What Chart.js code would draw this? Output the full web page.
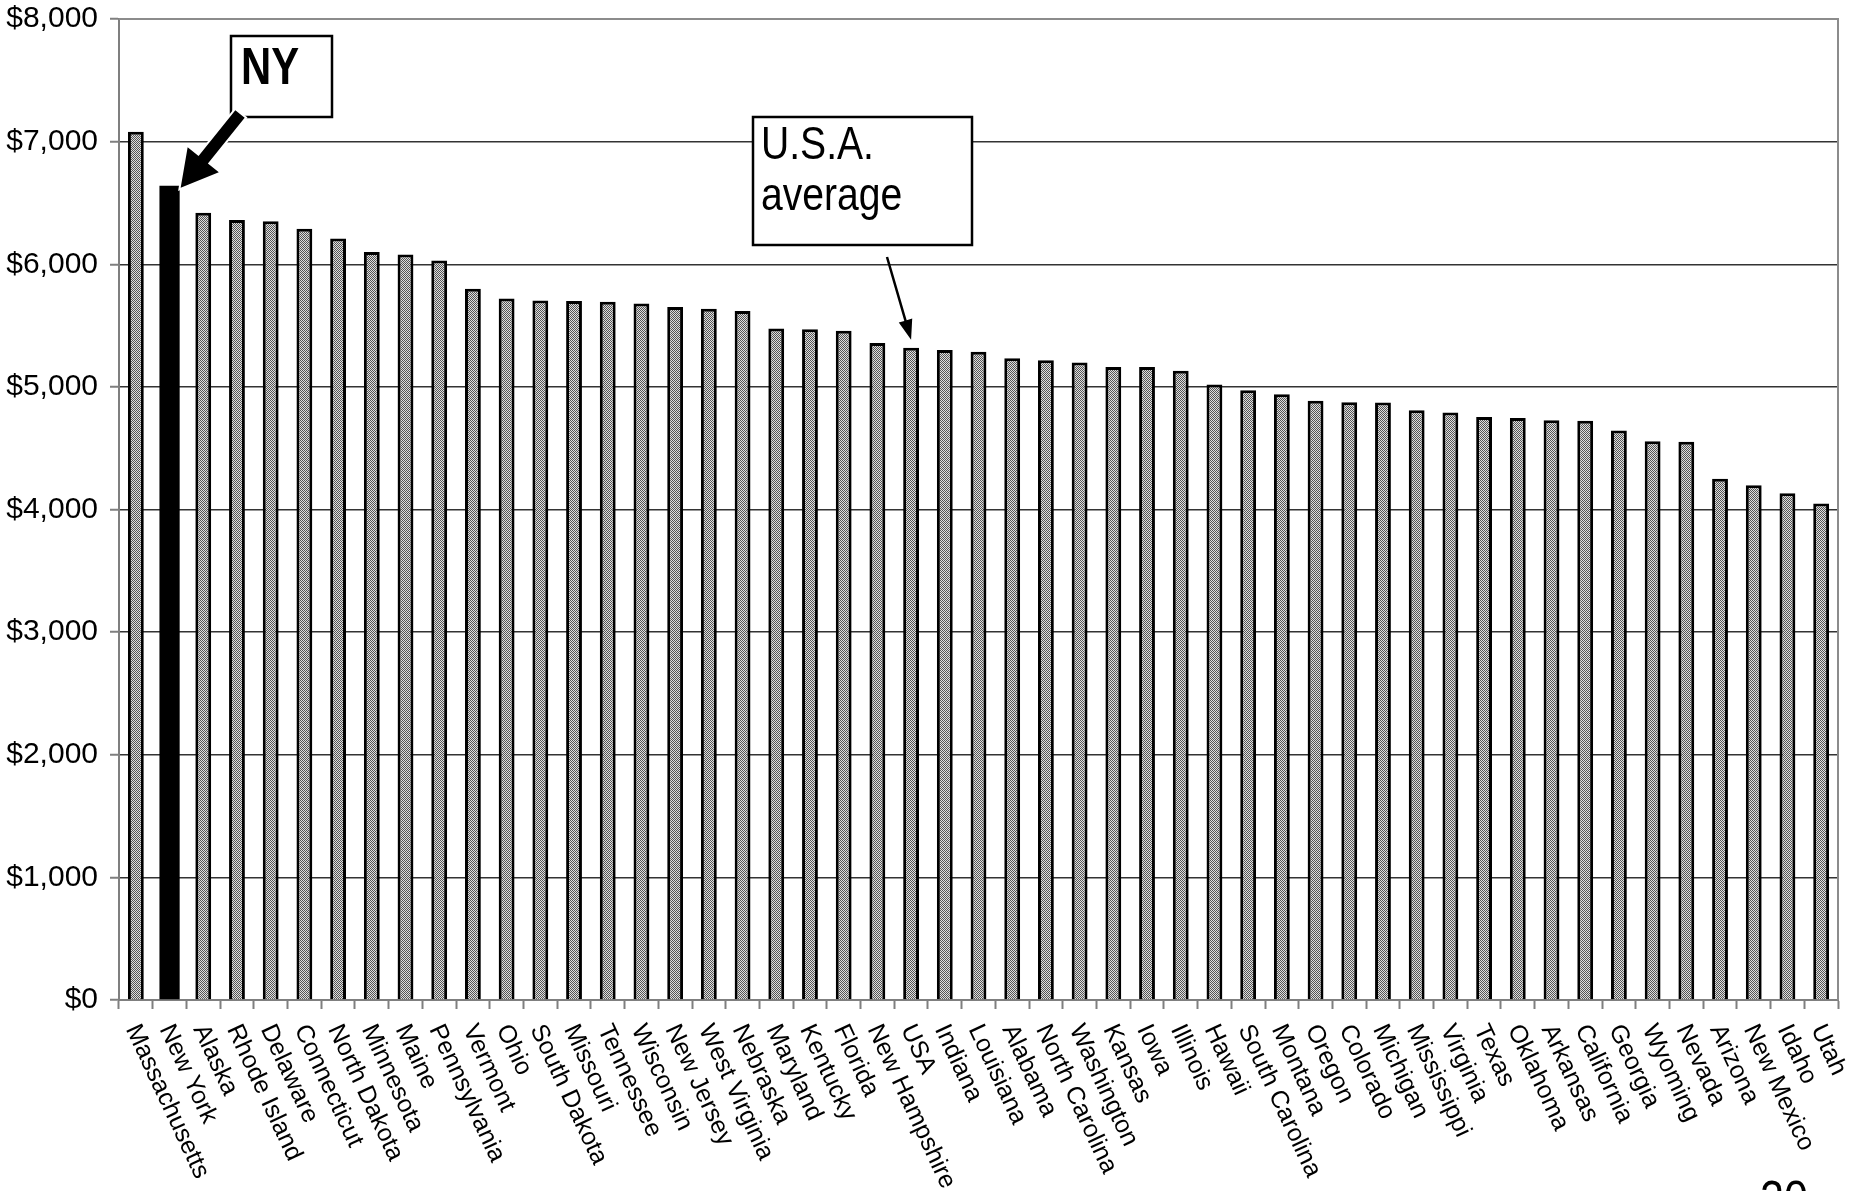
<!DOCTYPE html>
<html>
<head>
<meta charset="utf-8">
<title>Per pupil spending by state</title>
<script src="https://cdn.jsdelivr.net/npm/chart.js@4.4.1/dist/chart.umd.min.js"></script>
<style>
  html, body { margin: 0; padding: 0; background: #fff; }
  #wrap { width: 1860px; height: 1191px; position: relative; }
</style>
</head>
<body>
<div id="wrap"><canvas id="perPupil"></canvas></div>
<script>
// States ranked by spending, with the national average slotted in
const states = [
    'Massachusetts', 'New York', 'Alaska', 'Rhode Island', 'Delaware', 'Connecticut',
    'North Dakota', 'Minnesota', 'Maine', 'Pennsylvania', 'Vermont', 'Ohio',
    'South Dakota', 'Missouri', 'Tennessee', 'Wisconsin', 'New Jersey', 'West Virginia',
    'Nebraska', 'Maryland', 'Kentucky', 'Florida', 'New Hampshire', 'USA',
    'Indiana', 'Louisiana', 'Alabama', 'North Carolina', 'Washington', 'Kansas',
    'Iowa', 'Illinois', 'Hawaii', 'South Carolina', 'Montana', 'Oregon',
    'Colorado', 'Michigan', 'Mississippi', 'Virginia', 'Texas', 'Oklahoma',
    'Arkansas', 'California', 'Georgia', 'Wyoming', 'Nevada', 'Arizona',
    'New Mexico', 'Idaho', 'Utah'
];
const spending = [
    7080, 6640, 6420, 6360, 6350, 6290,
    6210, 6100, 6080, 6030, 5800, 5720,
    5705, 5700, 5695, 5680, 5652, 5638,
    5619, 5477, 5469, 5458, 5357, 5319,
    5300, 5286, 5234, 5218, 5199, 5163,
    5163, 5131, 5019, 4973, 4940, 4886,
    4875, 4872, 4810, 4791, 4755, 4747,
    4728, 4723, 4644, 4557, 4552, 4250,
    4198, 4133, 4049
];
const highlightState = 'New York';
const averageLabel = 'USA';
const nyNote = 'NY';
const usaNote = ['U.S.A.', 'average'];
const pageNumber = '20';

const FONT = '"Liberation Sans", Arial, sans-serif';
const nyIndex = states.indexOf(highlightState);
const usaIndex = states.indexOf(averageLabel);

// where the plot box sits on the slide
const plotBox = { top: 19, bottom: 1000 };

// fine dotted grey fill like the old excel pattern
function dotPattern() {
    const c = document.createElement('canvas');
    c.width = 2; c.height = 2;
    const g = c.getContext('2d');
    g.fillStyle = '#dedede';
    g.fillRect(0, 0, 2, 2);
    g.fillStyle = '#555';
    g.fillRect(0, 0, 1, 1);
    g.fillRect(1, 1, 1, 1);
    return g.createPattern(c, 'repeat');
}

function squeezedText(ctx, text, x, y, font, squeeze) {
    ctx.save();
    ctx.translate(x, y);
    ctx.scale(squeeze, 1);
    ctx.font = font;
    ctx.fillText(text, 0, 0);
    ctx.restore();
}

function arrow(ctx, from, to, shaft, headLen, headHalf, halo) {
    const len = Math.hypot(to.x - from.x, to.y - from.y);
    ctx.save();
    ctx.translate(from.x, from.y);
    ctx.rotate(Math.atan2(to.y - from.y, to.x - from.x));
    ctx.beginPath();
    ctx.moveTo(0, -shaft / 2);
    ctx.lineTo(len - headLen, -shaft / 2);
    ctx.lineTo(len - headLen, -headHalf);
    ctx.lineTo(len, 0);
    ctx.lineTo(len - headLen, headHalf);
    ctx.lineTo(len - headLen, shaft / 2);
    ctx.lineTo(0, shaft / 2);
    ctx.closePath();
    if (halo) {
        ctx.strokeStyle = '#fff';
        ctx.lineWidth = 4;
        ctx.lineJoin = 'miter';
        ctx.stroke();
    }
    ctx.fillStyle = '#000';
    ctx.fill();
    ctx.restore();
}

function noteBox(ctx, x, y, w, h) {
    ctx.save();
    ctx.fillStyle = '#fff';
    ctx.fillRect(x, y, w, h);
    ctx.strokeStyle = '#000';
    ctx.lineWidth = 2.5;
    ctx.strokeRect(x, y, w, h);
    ctx.restore();
}

// top + right frame of the plot area
const plotFrame = {
    id: 'plotFrame',
    beforeDatasetsDraw(chart) {
        const { ctx, chartArea: a } = chart;
        ctx.save();
        ctx.strokeStyle = '#8c8c8c';
        ctx.lineWidth = 2;
        ctx.beginPath();
        ctx.moveTo(a.left, a.top);
        ctx.lineTo(a.right, a.top);
        ctx.lineTo(a.right, a.bottom);
        ctx.stroke();
        ctx.restore();
    }
};

// category labels read downward, so draw them ourselves off the x scale
const slantedLabels = {
    id: 'slantedLabels',
    afterDraw(chart) {
        const { ctx, chartArea } = chart;
        const x = chart.scales.x;
        const angle = 65 * Math.PI / 180;
        ctx.save();
        ctx.font = '25px ' + FONT;
        ctx.fillStyle = '#000';
        ctx.textAlign = 'left';
        ctx.textBaseline = 'middle';
        states.forEach((name, i) => {
            ctx.save();
            ctx.translate(x.getPixelForValue(i) - 4, chartArea.bottom + 26);
            ctx.rotate(angle);
            ctx.fillText(name, 0, 0);
            ctx.restore();
        });
        ctx.restore();
    }
};

const callouts = {
    id: 'callouts',
    afterDraw(chart) {
        const ctx = chart.ctx;
        const nyBar = chart.getDatasetMeta(1).data[nyIndex];
        const usaBar = chart.getDatasetMeta(0).data[usaIndex];

        ctx.save();
        ctx.fillStyle = '#000';
        ctx.textAlign = 'left';
        ctx.textBaseline = 'alphabetic';

        // NY box + fat arrow
        noteBox(ctx, 231, 36, 101, 81);
        ctx.fillStyle = '#000';
        squeezedText(ctx, nyNote, 241, 84, 'bold 51px ' + FONT, 0.82);
        arrow(ctx, { x: 240, y: 114 }, { x: nyBar.x + nyBar.width / 2 + 1, y: nyBar.y + 2 }, 12, 36, 20, true);

        // USA average box + thin arrow
        noteBox(ctx, 753, 117, 219, 128);
        ctx.fillStyle = '#000';
        squeezedText(ctx, usaNote[0], 761, 159, '46px ' + FONT, 0.85);
        squeezedText(ctx, usaNote[1], 761, 210, '46px ' + FONT, 0.85);
        arrow(ctx, { x: 887, y: 257 }, { x: usaBar.x, y: usaBar.y - 8 }, 2.5, 20, 7, false);

        // slide page number, cut off at the bottom edge
        squeezedText(ctx, pageNumber, 1760, 1216, '50px ' + FONT, 0.86);
        ctx.restore();
    }
};

const layoutPadding = { top: 19, right: 22, bottom: 0, left: 0 };

const ctx = document.getElementById('perPupil').getContext('2d');
const chart = new Chart(ctx, {
    type: 'bar',
    data: {
        labels: states,
        datasets: [
            {
                data: spending.map((v, i) => i === nyIndex ? null : v),
                backgroundColor: dotPattern(),
                borderColor: '#000',
                borderWidth: 3,
                grouped: false,
                categoryPercentage: 1,
                barPercentage: 0.47,
            },
            {
                data: spending.map((v, i) => i === nyIndex ? v : null),
                backgroundColor: '#000',
                borderWidth: 0,
                grouped: false,
                categoryPercentage: 1,
                barPercentage: 0.6,
            },
        ],
    },
    options: {
        responsive: true,
        maintainAspectRatio: false,
        animation: false,
        layout: { padding: layoutPadding },
        plugins: {
            legend: { display: false },
            tooltip: { enabled: false },
        },
        scales: {
            x: {
                offset: true,
                grid: {
                    display: true,
                    offset: true,
                    drawOnChartArea: false,
                    drawTicks: true,
                    tickLength: 9,
                    tickColor: '#7f7f7f',
                    tickWidth: 2,
                },
                border: { display: true, color: '#7f7f7f', width: 2 },
                ticks: { display: false },
                afterFit: s => { s.height = 191; },
            },
            y: {
                min: 0,
                max: 8000,
                ticks: {
                    stepSize: 1000,
                    color: '#000',
                    padding: 12,
                    // small lineHeight keeps chart.js from padding the plot top for the $8,000 label
                    font: { family: FONT, size: 30, lineHeight: 0.4 },
                    callback: v => '$' + v.toLocaleString('en-US'),
                },
                grid: {
                    color: c => c.tick && c.tick.value === 8000 ? '#8c8c8c' : '#333',
                    lineWidth: 1.5,
                    tickLength: 9,
                    tickColor: '#7f7f7f',
                    tickWidth: 2,
                },
                border: { color: '#7f7f7f', width: 2 },
                afterFit: s => { s.width = 119; },
            },
        },
    },
    plugins: [plotFrame, slantedLabels, callouts],
});

// pull the plot box back to where the slide has it
const area = chart.chartArea;
chart.config.options.layout.padding = {
    top: Math.max(0, layoutPadding.top + plotBox.top - area.top),
    right: layoutPadding.right,
    bottom: Math.max(0, layoutPadding.bottom + area.bottom - plotBox.bottom),
    left: layoutPadding.left,
};
chart.update();
</script>
</body>
</html>
